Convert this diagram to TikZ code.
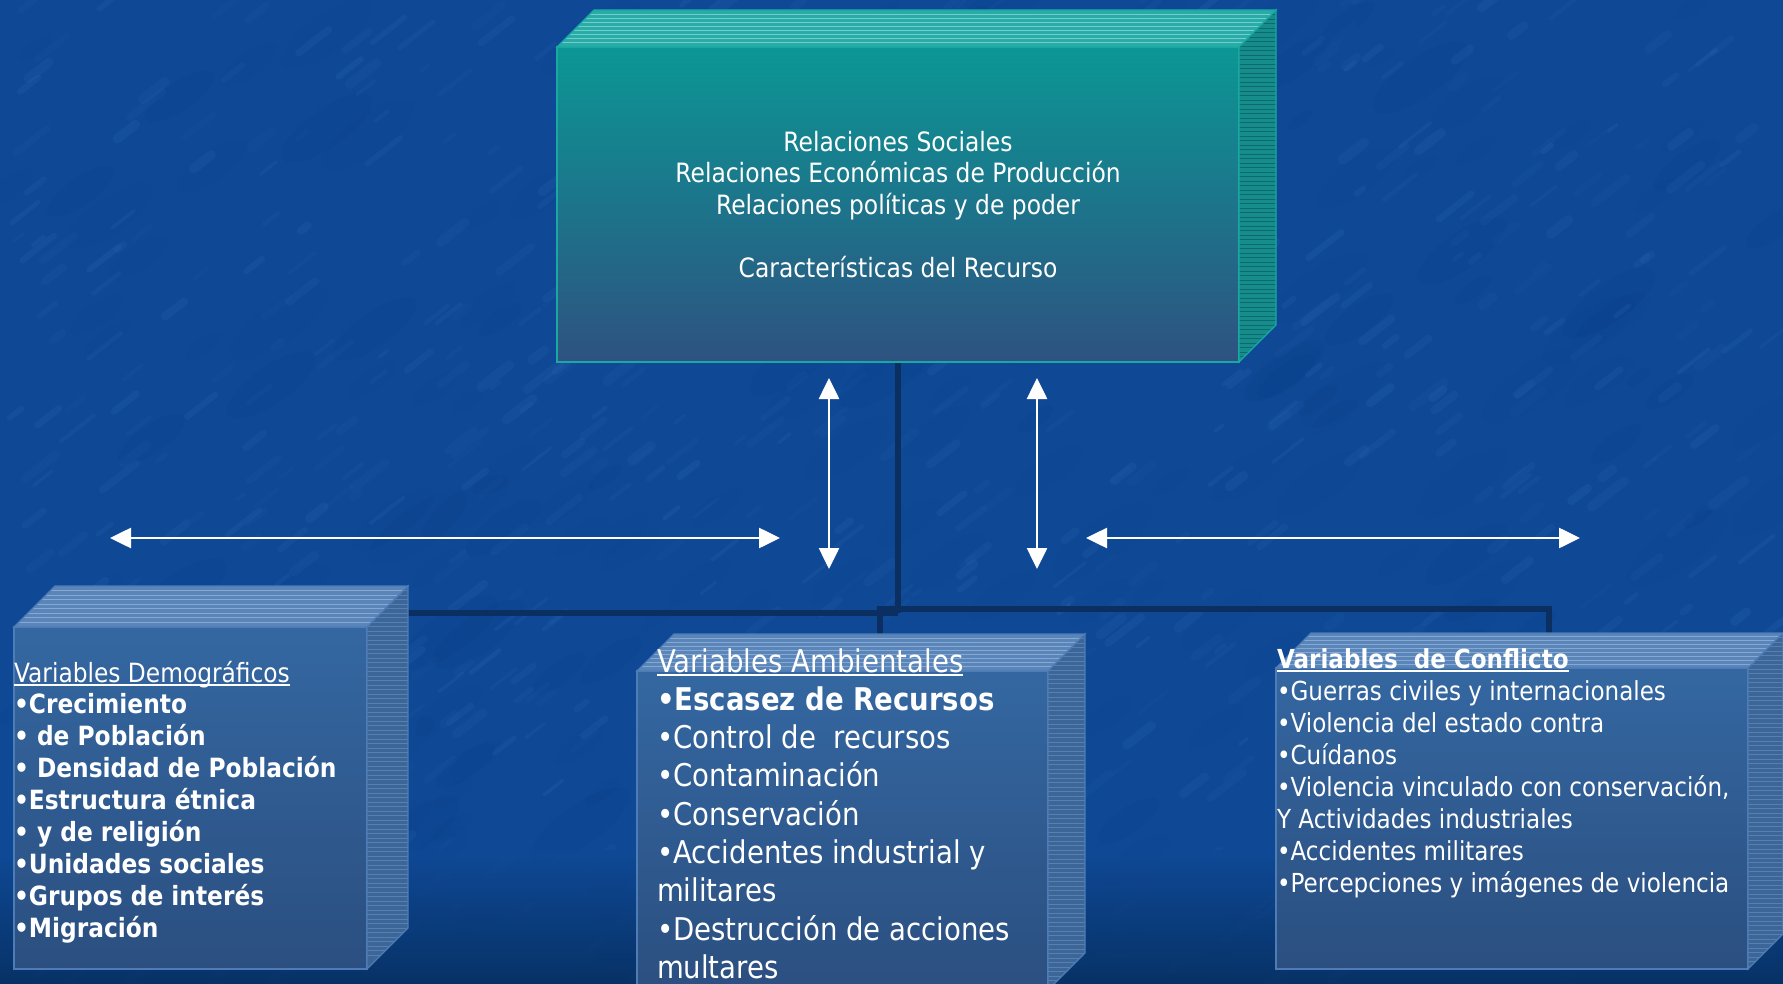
\documentclass[tikz,border=0pt]{standalone}
\usepackage{fontspec}
\setmainfont{DejaVu Sans}[FakeStretch=0.88]
\usetikzlibrary{arrows.meta}
\definecolor{bg}{HTML}{0F4996}
\definecolor{bgdark}{HTML}{062E5E}
\definecolor{streak}{HTML}{4580CC}
\definecolor{blot}{HTML}{05357A}
\definecolor{tfrontA}{HTML}{0B9794}
\definecolor{tfrontB}{HTML}{2E5281}
\definecolor{ttop}{HTML}{2BABA7}
\definecolor{ttopline}{HTML}{6FD0CB}
\definecolor{tside}{HTML}{168C8B}
\definecolor{tsideline}{HTML}{0B6A70}
\definecolor{tedge}{HTML}{1AA8A3}
\definecolor{bfrontA}{HTML}{3467A1}
\definecolor{bfrontB}{HTML}{2B4F80}
\definecolor{btop}{HTML}{5A85B8}
\definecolor{btopline}{HTML}{86A8D2}
\definecolor{bside}{HTML}{3C6697}
\definecolor{bsideline}{HTML}{5780B0}
\definecolor{bedge}{HTML}{4D7CB6}
\definecolor{link}{HTML}{0A2F60}
\newcommand\ulin[1]{\leavevmode\setbox0=\hbox{#1}\rlap{\rule[-3.5pt]{\wd0}{1.8pt}}\box0}
% #1 name, #2 x1, #3 y1, #4 x2, #5 y2, #6 depth, #7 colour prefix
\newcommand\mybox[7]{%
  \node[anchor=north west, inner sep=0, outer sep=0, minimum width={#4-#2}, minimum height={#5-#3},
        top color=#7frontA, bottom color=#7frontB, draw=#7edge, line width=1.2pt] (#1) at (#2,#3) {};
  \fill[#7top] (#2,#3) -- ++(#6,-#6) -- (#4+#6,#3-#6) -- (#4,#3) -- cycle;
  \begin{scope}
    \clip (#2,#3) -- ++(#6,-#6) -- (#4+#6,#3-#6) -- (#4,#3) -- cycle;
    \foreach \k in {1,...,8} \draw[#7topline, line width=0.9pt] (#2+\k*#6/9, #3-\k*#6/9) -- (#4+\k*#6/9, #3-\k*#6/9);
  \end{scope}
  \draw[#7edge, line width=1.2pt] (#2,#3) -- ++(#6,-#6) -- (#4+#6,#3-#6) -- (#4,#3) -- cycle;
  \fill[#7side] (#4,#3) -- (#4+#6,#3-#6) -- (#4+#6,#5-#6) -- (#4,#5) -- cycle;
  \begin{scope}
    \clip (#4,#3) -- (#4+#6,#3-#6) -- (#4+#6,#5-#6) -- (#4,#5) -- cycle;
    \foreach \k in {0,...,82} \draw[#7sideline, line width=0.7pt] (#4, #3-#6+\k*4.5) -- ++(#6,0);
  \end{scope}
  \draw[#7edge, line width=1.2pt] (#4,#3) -- (#4+#6,#3-#6) -- (#4+#6,#5-#6) -- (#4,#5) -- cycle;
}
\tikzset{
  linkline/.style={link, line width=6pt},
  biarrow/.style={white, line width=2.6pt, {Triangle[length=21pt,width=20pt]}-{Triangle[length=21pt,width=20pt]}},
  txt/.style={text=white, inner sep=0, outer sep=0}
}
\begin{document}
\begin{tikzpicture}[x=1pt,y=-1pt]
\useasboundingbox (0,0) rectangle (1783,984);
% background
\fill[bg] (0,0) rectangle (1783,984);
\pgfmathsetseed{7}
\foreach \i in {1,...,260}{
  \pgfmathsetmacro\xa{rnd*1800}
  \pgfmathsetmacro\ya{rnd*990}
  \pgfmathsetmacro\rr{15+rnd*45}
  \pgfmathsetmacro\op{0.04+rnd*0.08}
  \fill[blot, opacity=\op, rotate around={35:(\xa,\ya)}] (\xa,\ya) ellipse ({\rr} and {\rr*0.35});
}
\foreach \i in {1,...,700}{
  \pgfmathsetmacro\xa{rnd*1800}
  \pgfmathsetmacro\ya{rnd*990}
  \pgfmathsetmacro\ll{8+rnd*35}
  \pgfmathsetmacro\op{0.04+rnd*0.09}
  \pgfmathsetmacro\lw{3+rnd*7}
  \draw[streak, line width=\lw pt, opacity=\op, line cap=round] (\xa,\ya) -- ++(-38:\ll);
}
\shade[top color=bg, bottom color=bgdark, opacity=0.85] (0,850) rectangle (1783,985);
% junction points
\coordinate (J1) at (898,613);
\coordinate (JL) at (408,613);
\coordinate (J2) at (877,609);
\coordinate (J3) at (1549,609);
\coordinate (ambTop) at (880,635);
\coordinate (confTop) at (1549,635);
\coordinate (trunkTop) at (898,360);
% connectors
\draw[linkline] (trunkTop) -- (J1);
\draw[linkline] (JL) -- (J1);
\draw[linkline] (J2) -- (J3) -- (confTop);
\draw[linkline] (J2 -| ambTop) -- (ambTop);
% arrows
\coordinate (aL1) at (110,538); \coordinate (aL2) at (780,538);
\coordinate (aR1) at (1086,538); \coordinate (aR2) at (1580,538);
\coordinate (v1a) at (829,378); \coordinate (v1b) at (829,569);
\coordinate (v2a) at (1037,378); \coordinate (v2b) at (1037,569);
\draw[biarrow] (aL1) -- (aL2);
\draw[biarrow] (aR1) -- (aR2);
\draw[biarrow] (v1a) -- (v1b);
\draw[biarrow] (v2a) -- (v2b);
% boxes
\mybox{top}{557}{47}{1239}{362}{37}{t}
\mybox{demo}{14}{627}{367}{969}{41}{b}
\mybox{amb}{637}{671}{1048}{990}{37}{b}
\mybox{conf}{1276}{668}{1748}{969}{35}{b}
% texts top box
\node[txt, anchor=base, font=\fontsize{26.6}{31}\selectfont] (t1) at (898,152) {Relaciones Sociales};
\node[txt, anchor=base, font=\fontsize{26.6}{31}\selectfont] (t2) at (898,183) {Relaciones Económicas de Producción};
\node[txt, anchor=base, font=\fontsize{26.6}{31}\selectfont] (t3) at (898,215) {Relaciones políticas y de poder};
\node[txt, anchor=base, font=\fontsize{26.6}{31}\selectfont] (t4) at (898,278) {Características del Recurso};
% left box text
\node[txt, anchor=base west] (demotext) at (14,682) {\parbox[t]{400pt}{\raggedright\fontsize{26.5}{31.9}\selectfont
\ulin{Variables Demográficos}\\
\textbf{•Crecimiento}\\
\textbf{• de Población}\\
\textbf{• Densidad de Población}\\
\textbf{•Estructura étnica}\\
\textbf{• y de religión}\\
\textbf{•Unidades sociales}\\
\textbf{•Grupos de interés}\\
\textbf{•Migración}}};
% middle box text
\node[txt, anchor=base west] (ambtext) at (657,672) {\parbox[t]{420pt}{\raggedright\fontsize{31.3}{38.3}\selectfont
\ulin{Variables Ambientales}\\
\textbf{•Escasez de Recursos}\\
•Control de\ \ recursos\\
•Contaminación\\
•Conservación\\
•Accidentes industrial y\\
militares\\
•Destrucción de acciones\\
multares}};
% right box text
\node[txt, anchor=base west] (conftext) at (1277,668) {\parbox[t]{500pt}{\raggedright\fontsize{26.2}{32.1}\selectfont
\textbf{\ulin{Variables\ \ de Conflicto}}\\
•Guerras civiles y internacionales\\
•Violencia del estado contra\\
•Cuídanos\\
•Violencia vinculado con conservación,\\
Y Actividades industriales\\
•Accidentes militares\\
•Percepciones y imágenes de violencia}};
\end{tikzpicture}
\end{document}
